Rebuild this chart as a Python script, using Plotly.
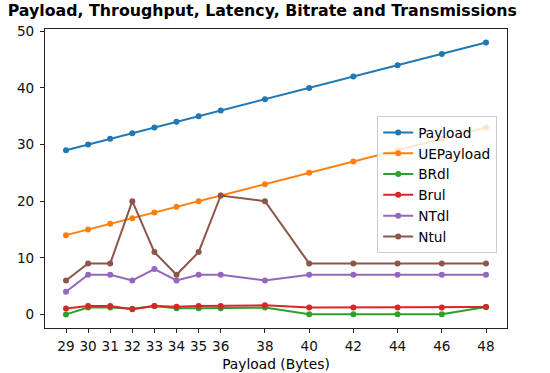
import plotly.graph_objects as go

x = [29, 30, 31, 32, 33, 34, 35, 36, 38, 40, 42, 44, 46, 48]
payload = [29, 30, 31, 32, 33, 34, 35, 36, 38, 40, 42, 44, 46, 48]
uepayload = [14, 15, 16, 17, 18, 19, 20, 21, 23, 25, 27, 29, 31, 33]
brdl = [0.0, 1.2, 1.2, 1.0, 1.5, 1.1, 1.1, 1.1, 1.2, 0.05, 0.05, 0.05, 0.05, 1.3]
brul = [1.05, 1.5, 1.5, 0.9, 1.5, 1.35, 1.5, 1.5, 1.6, 1.2, 1.2, 1.2, 1.2, 1.3]
ntdl = [4, 7, 7, 6, 8, 6, 7, 7, 6, 7, 7, 7, 7, 7]
ntul = [6, 9, 9, 20, 11, 7, 11, 21, 20, 9, 9, 9, 9, 9]

series = [
    ("Payload", payload, "#1f77b4"),
    ("UEPayload", uepayload, "#ff7f0e"),
    ("BRdl", brdl, "#2ca02c"),
    ("Brul", brul, "#d62728"),
    ("NTdl", ntdl, "#9467bd"),
    ("Ntul", ntul, "#8c564b"),
]

fig = go.Figure()
for name, ys, c in series:
    fig.add_trace(go.Scatter(x=x, y=ys, name=name, mode="lines+markers",
                             line=dict(color=c, width=2),
                             marker=dict(color=c, size=6)))

axis_common = dict(showgrid=False, zeroline=False, showline=True, linecolor="#222222",
                   linewidth=1, mirror=True, ticks="outside", ticklen=4,
                   tickcolor="#222222", tickfont=dict(size=13.6, color="#111111"))

fig.update_layout(
    width=550, height=373,
    margin=dict(l=45, r=43, t=29, b=45, autoexpand=False),
    paper_bgcolor="white", plot_bgcolor="white",
    font=dict(family="DejaVu Sans", color="black"),
    title=dict(text="<b>Payload, Throughput, Latency, Bitrate and Transmissions</b>",
               x=0.477, xanchor="center", y=1, yanchor="top", pad=dict(t=5),
               font=dict(size=15.8, family="DejaVu Sans", color="black")),
    xaxis=dict(range=[28.05, 48.95], tickvals=x, ticktext=[str(v) for v in x],
               title=dict(text="Payload (Bytes)", font=dict(size=13.8), standoff=6),
               ticklabelstandoff=2, automargin=False, **axis_common),
    yaxis=dict(range=[-2.4, 50.4], tickvals=[0, 10, 20, 30, 40, 50],
               ticklabelstandoff=3, automargin=False, **axis_common),
    legend=dict(x=0.719, y=0.709, xanchor="left", yanchor="top",
                bgcolor="rgba(255,255,255,0.8)", bordercolor="#cccccc", borderwidth=1,
                font=dict(size=13.7), tracegroupgap=0, itemwidth=30),
    showlegend=True,
)

fig.write_html("out.html", config={"displayModeBar": False},
               post_script="document.body.style.margin='0';document.body.style.overflow='hidden';")
